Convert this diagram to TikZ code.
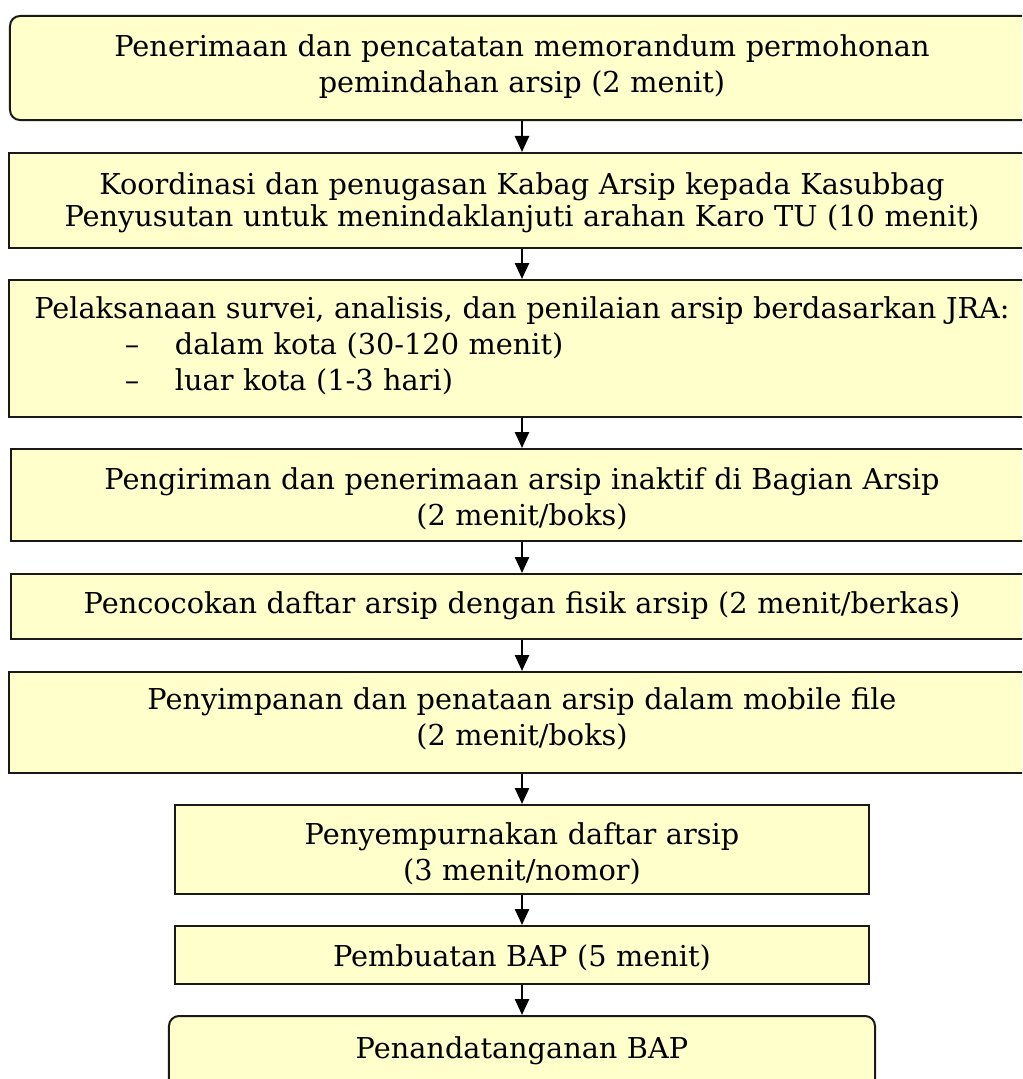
\documentclass[tikz,border=0pt]{standalone}
\usepackage{fontspec}
\setmainfont{DejaVu Serif}
\usetikzlibrary{arrows.meta}
\definecolor{boxfill}{HTML}{FFFFCC}

\begin{document}
\begin{tikzpicture}[x=0.4pt, y=-0.4pt,
    stepbox/.style={draw=black!90, line width=0.8pt, fill=boxfill, anchor=north,
        inner sep=0pt, align=center, text height=16pt,
        font=\fontsize{11.5}{14.4}\selectfont},
    flowarrow/.style={-{Triangle[length=6.4pt, width=5.6pt]}, line width=1pt}]
    \useasboundingbox (0,0) rectangle (1022,1079);
    \clip (0,0) rectangle (1022,1079);

    % Steps
    \node[stepbox, rounded corners=4pt, text width=409.6pt, text depth=25.6pt] (terima) at (522,15)
        {Penerimaan dan pencatatan memorandum permohonan\\ pemindahan arsip (2 menit)};
    \node[stepbox, text width=410.4pt, text height=16.4pt, text depth=21.6pt,
        font=\fontsize{11.5}{12.8}\selectfont] (koordinasi) at (522,152)
        {Koordinasi dan penugasan Kabag Arsip kepada Kasubbag\\ Penyusutan untuk menindaklanjuti arahan Karo TU (10 menit)};
    \node[stepbox, text width=410.4pt, text height=15.2pt, text depth=39.6pt] (survei) at (522,279)
        {Pelaksanaan survei, analisis, dan penilaian arsip berdasarkan JRA:\\
        \makebox[\linewidth][l]{\hspace*{46.4pt}\makebox[20pt][l]{--}dalam kota (30-120 menit)}\\
        \makebox[\linewidth][l]{\hspace*{46.4pt}\makebox[20pt][l]{--}luar kota (1-3 hari)}};
    \node[stepbox, text width=408.8pt, text depth=20.8pt] (kirim) at (522,448)
        {Pengiriman dan penerimaan arsip inaktif di Bagian Arsip\\ (2 menit/boks)};
    \node[stepbox, text width=408.8pt, text height=15.6pt, text depth=10.4pt] (cocok) at (522,573)
        {Pencocokan daftar arsip dengan fisik arsip (2 menit/berkas)};
    \node[stepbox, text width=410.4pt, text height=14.8pt, text depth=25.6pt] (simpan) at (522,671)
        {Penyimpanan dan penataan arsip dalam mobile file\\ (2 menit/boks)};
    \node[stepbox, text width=277.6pt, text height=15.6pt, text depth=20pt] (sempurna) at (522,804)
        {Penyempurnakan daftar arsip\\ (3 menit/nomor)};
    \node[stepbox, text width=277.6pt, text depth=7.2pt] (bap) at (522,925)
        {Pembuatan BAP (5 menit)};
    \node[stepbox, rounded corners=4pt, text width=282.4pt, text height=16.8pt, text depth=24pt] (tandatangan) at (522,1015)
        {Penandatanganan BAP};

    % Arrows
    \draw[flowarrow] (terima) -- (koordinasi);
    \draw[flowarrow] (koordinasi) -- (survei);
    \draw[flowarrow] (survei) -- (kirim);
    \draw[flowarrow] (kirim) -- (cocok);
    \draw[flowarrow] (cocok) -- (simpan);
    \draw[flowarrow] (simpan) -- (sempurna);
    \draw[flowarrow] (sempurna) -- (bap);
    \draw[flowarrow] (bap) -- (tandatangan);
\end{tikzpicture}
\end{document}
